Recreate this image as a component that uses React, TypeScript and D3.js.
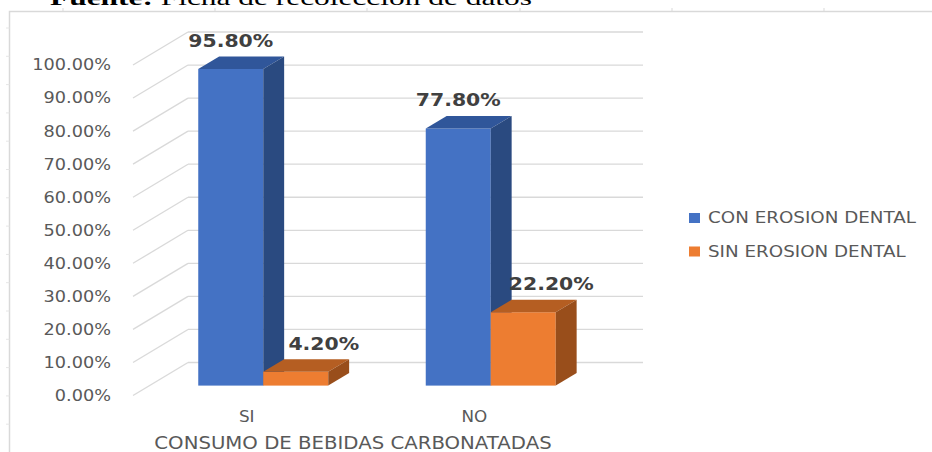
import * as d3 from 'd3'
import React from 'react'

// chart values
const categories = ['SI', 'NO']
const seriesNames = ['CON EROSION DENTAL', 'SIN EROSION DENTAL']
const conErosion = [0.958, 0.778]
const sinErosion = [0.042, 0.222]
const yTicks = [0, 0.1, 0.2, 0.3, 0.4, 0.5, 0.6, 0.7, 0.8, 0.9, 1.0]
const axisTitle = 'CONSUMO DE BEBIDAS CARBONATADAS'
const sourceNote = 'Ficha de recolección de datos'

const faces = [
  { front: '#4472C4', top: '#30569A', side: '#2A4A80' },
  { front: '#ED7D31', top: '#B55E22', side: '#994E1B' },
]

const W = 932
const H = 452
// depth projection of the 3D box
const depthX = 55
const depthY = 33
const barD0 = 0.3
const barD1 = 0.68

const SText = ({ x, y, sx = 1, anchor = 'start', size, weight = 'normal', fill, children, dy = '0' }: any) => (
  <text
    transform={`translate(${x},${y}) scale(${sx},1)`}
    textAnchor={anchor}
    fontFamily="DejaVu Sans, Verdana, sans-serif"
    fontSize={size}
    fontWeight={weight}
    fill={fill}
    dy={dy}
  >
    {children}
  </text>
)

const App = () => {
  const y = d3.scaleLinear().domain([0, 1]).range([395.5, 65])
  const x = d3.scaleBand().domain(categories).range([133, 588])
  const xs = d3.scaleBand().domain(seriesNames).range([0, x.bandwidth()]).paddingOuter(0.75)

  const p = (px: number, v: number, d: number) => [px + depthX * d, y(v) - depthY * d]
  const poly = (pts: number[][]) => pts.map((q) => q.join(',')).join(' ')

  const values = [conErosion, sinErosion]
  const fmt = (v: number) => (v * 100).toFixed(2) + '%'

  const backLeft = x.range()[0] + depthX
  const backRight = x.range()[1] + depthX

  return (
    <div style={{ position: 'fixed', left: 0, top: 0 }}>
      <svg width={W} height={H} style={{ display: 'block', background: '#fff' }}>
        {/* page decorations */}
        <text x={50} y={5} fontFamily="Liberation Serif, serif" fontSize={22} fill="#000" textLength={482} lengthAdjust="spacingAndGlyphs">
          <tspan fontWeight="bold">Fuente: </tspan>
          {sourceNote}
        </text>
        <path d={`M9.5,${H} V11.5 H${W}`} fill="none" stroke="#D9D9D9" strokeWidth={1.5} />
        {[63, 215, 367, 520, 672, 824].map((tx) => (
          <line key={tx} x1={tx} x2={tx} y1={8} y2={11.5} stroke="#D9D9D9" />
        ))}
        {d3.range(28, H, 28.3).map((ty) => (
          <line key={ty} x1={6} x2={9.5} y1={ty} y2={ty} stroke="#E6E6E6" />
        ))}

        {/* side wall and back wall gridlines */}
        {yTicks.map((t) => {
          const a = p(x.range()[0], t, 0)
          const b = p(x.range()[0], t, 1)
          return (
            <g key={t}>
              <line x1={a[0]} y1={a[1]} x2={b[0]} y2={b[1]} stroke="#D9D9D9" strokeWidth={1.3} />
              <line x1={backLeft} y1={b[1]} x2={backRight} y2={b[1]} stroke="#D9D9D9" strokeWidth={1.3} />
            </g>
          )
        })}

        {/* y tick labels */}
        {yTicks.map((t) => (
          <SText key={t} x={111} y={y(t)} sx={1.18} anchor="end" size={15} fill="#595959" dy="0.36em">
            {fmt(t)}
          </SText>
        ))}

        {/* bars */}
        {categories.map((c, ci) =>
          seriesNames.map((s, si) => {
            const v = values[si][ci]
            const x0 = (x(c) as number) + (xs(s) as number)
            const x1 = x0 + xs.bandwidth()
            const f = faces[si]
            const fl = p(x0, v, barD0)
            const br = p(x1, 0, barD0)
            return (
              <g key={c + s}>
                <rect x={fl[0]} y={fl[1]} width={br[0] - fl[0]} height={br[1] - fl[1]} fill={f.front} />
                <polygon points={poly([p(x0, v, barD0), p(x1, v, barD0), p(x1, v, barD1), p(x0, v, barD1)])} fill={f.top} />
                <polygon points={poly([p(x1, v, barD0), p(x1, 0, barD0), p(x1, 0, barD1), p(x1, v, barD1)])} fill={f.side} />
              </g>
            )
          })
        )}

        {/* data labels */}
        {categories.map((c, ci) =>
          seriesNames.map((s, si) => {
            const v = values[si][ci]
            const x0 = (x(c) as number) + (xs(s) as number)
            const fl = p(x0 + xs.bandwidth() / 2, v, barD0)
            return (
              <SText key={c + s} x={fl[0] + (si === 0 ? 0 : 28)} y={fl[1] - 22} sx={1.2} anchor="middle" size={17} weight="bold" fill="#404040">
                {fmt(v)}
              </SText>
            )
          })
        )}

        {/* category labels */}
        {categories.map((c) => (
          <SText key={c} x={(x(c) as number) + x.bandwidth() / 2} y={422} sx={1.12} anchor="middle" size={15} fill="#595959">
            {c}
          </SText>
        ))}
        <SText x={353} y={448.5} sx={1.16} anchor="middle" size={17} fill="#595959">
          {axisTitle}
        </SText>

        {/* legend */}
        {seriesNames.map((s, i) => (
          <g key={s} transform={`translate(689,${213 + i * 33.5})`}>
            <rect x={0} y={0} width={11} height={10} fill={faces[i].front} />
            <SText x={19} y={10} sx={1.22} size={15} fill="#595959">
              {s}
            </SText>
          </g>
        ))}
      </svg>
    </div>
  )
}

export default App
